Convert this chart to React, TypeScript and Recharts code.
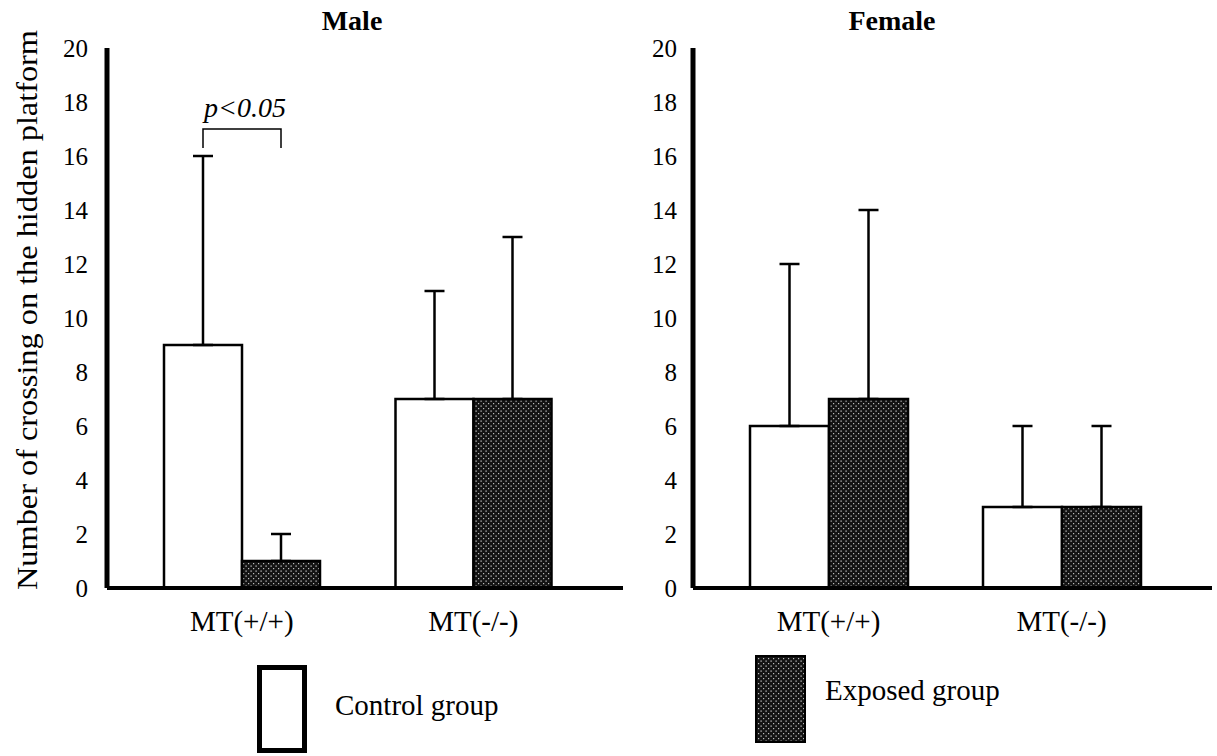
import React from "react";
import { BarChart, Bar, XAxis, YAxis, ErrorBar, LabelList, Legend } from "recharts";

const categories = ["MT(+/+)", "MT(-/-)"];
const maleControl = [9, 7];
const maleControlSd = [7, 4];
const maleExposed = [1, 7];
const maleExposedSd = [1, 6];
const femaleControl = [6, 3];
const femaleControlSd = [6, 3];
const femaleExposed = [7, 3];
const femaleExposedSd = [7, 3];
const yTicks = [0, 2, 4, 6, 8, 10, 12, 14, 16, 18, 20];
const bracketLevel = 17;
const bracketLegEnd = 16.3;
const bracketText = "p<0.05";

const FONT = "Liberation Serif, DejaVu Serif, serif";

function build(c: number[], cs: number[], e: number[], es: number[]) {
  return categories.map((name, i) => ({
    name,
    control: c[i],
    controlErr: [0, cs[i]],
    exposed: e[i],
    exposedErr: [0, es[i]],
  }));
}

const maleData = build(maleControl, maleControlSd, maleExposed, maleExposedSd);
const femaleData = build(femaleControl, femaleControlSd, femaleExposed, femaleExposedSd);

const Bracket = (props: any) => {
  const { x, y, width, height, index, value } = props;
  if (index !== 0) return null;
  const unit = height / value;
  const base = y + height;
  const top = base - bracketLevel * unit;
  const leg = base - bracketLegEnd * unit;
  const x1 = x + width / 2;
  const x2 = x + width * 1.5;
  return (
    <g>
      <path d={`M${x1},${leg}V${top}H${x2}V${leg}`} stroke="#000" strokeWidth={1.5} fill="none" />
      <text x={(x1 + x2) / 2 + 3} y={top - 12} textAnchor="middle" fontStyle="italic" fontSize={28} fontFamily={FONT} fill="#000">
        {bracketText}
      </text>
    </g>
  );
};

const YLabel = () => (
  <text
    x={27}
    y={310}
    transform="rotate(-90 27 310)"
    textAnchor="middle"
    dominantBaseline="central"
    fontSize={29}
    fontFamily={FONT}
    textLength={560}
    lengthAdjust="spacingAndGlyphs"
    fill="#000"
  >
    Number of crossing on the hidden platform
  </text>
);

function LegendItem({ payload, keyName, boxW, boxH, textLeft, textTop, filled }: any) {
  const item = (payload || []).find((p: any) => p.dataKey === keyName);
  if (!item) return null;
  return (
    <div style={{ position: "relative", width: 300, height: 100 }}>
      <svg width={boxW} height={boxH} style={{ position: "absolute", left: 0, top: 0 }}>
        {filled ? (
          <rect x={1} y={1} width={boxW - 2} height={boxH - 2} fill="url(#dots)" stroke="#000" strokeWidth={2} />
        ) : (
          <rect x={2.5} y={2.5} width={boxW - 5} height={boxH - 5} fill="#fff" stroke="#000" strokeWidth={5} />
        )}
      </svg>
      <span
        style={{
          position: "absolute",
          left: textLeft,
          top: textTop,
          fontSize: 29,
          lineHeight: "29px",
          fontFamily: FONT,
          whiteSpace: "nowrap",
          color: "#000",
        }}
      >
        {item.value}
      </span>
    </div>
  );
}

function Panel({ data, width, axisWidth, tickMargin, marginRight, legendKey, legendStyle, legendProps, bracket, yLabel }: any) {
  return (
    <BarChart
      width={width}
      height={756}
      data={data}
      margin={{ top: 48, right: marginRight, bottom: 96, left: 0 }}
      barCategoryGap={38}
      barGap={0}
    >
      <defs>
        <pattern id="dots" width={5} height={5} patternUnits="userSpaceOnUse">
          <rect width={5} height={5} fill="#141414" />
          <rect x={0.5} y={0.5} width={1.2} height={1.2} fill="#d8d8d8" />
          <rect x={3} y={3} width={1.2} height={1.2} fill="#bdbdbd" />
        </pattern>
      </defs>
      <XAxis
        dataKey="name"
        axisLine={{ stroke: "#000", strokeWidth: 4 }}
        tickLine={false}
        tickMargin={16}
        height={72}
        padding={{ left: 19, right: 34 }}
        tick={{ fill: "#000", fontSize: 29, fontFamily: FONT }}
      />
      <YAxis
        domain={[0, 20]}
        ticks={yTicks}
        interval={0}
        width={axisWidth}
        axisLine={{ stroke: "#000", strokeWidth: 5 }}
        tickLine={false}
        tickMargin={tickMargin}
        tick={{ fill: "#000", fontSize: 25, fontFamily: FONT }}
        label={yLabel ? <YLabel /> : undefined}
      />
      <Legend
        layout="vertical"
        align="center"
        verticalAlign="middle"
        wrapperStyle={legendStyle}
        content={(p: any) => <LegendItem payload={p.payload} keyName={legendKey} {...legendProps} />}
      />
      <Bar dataKey="control" name="Control group" fill="#fff" stroke="#000" strokeWidth={2.5} isAnimationActive={false}>
        <ErrorBar dataKey="controlErr" direction="y" width={10} stroke="#000" strokeWidth={2.5} />
        {bracket ? <LabelList dataKey="control" content={<Bracket />} /> : null}
      </Bar>
      <Bar dataKey="exposed" name="Exposed group" fill="url(#dots)" stroke="#000" strokeWidth={2.5} isAnimationActive={false}>
        <ErrorBar dataKey="exposedErr" direction="y" width={10} stroke="#000" strokeWidth={2.5} />
      </Bar>
    </BarChart>
  );
}

const titleStyle: React.CSSProperties = {
  position: "absolute",
  top: 7,
  transform: "translateX(-50%)",
  fontFamily: FONT,
  fontWeight: "bold",
  fontSize: 28,
  lineHeight: "28px",
  whiteSpace: "nowrap",
  color: "#000",
};

export default function App() {
  return (
    <div style={{ position: "absolute", left: 0, top: 0, width: 1217, height: 756, background: "#fff", overflow: "hidden" }}>
      <div style={{ position: "absolute", left: 0, top: 0 }}>
        <Panel
          data={maleData}
          width={640}
          axisWidth={107}
          tickMargin={13}
          marginRight={17}
          legendKey="control"
          legendStyle={{ left: 257, top: 665, width: 300, height: 100 }}
          legendProps={{ boxW: 50, boxH: 88, textLeft: 78, textTop: 26, filled: false }}
          bracket
          yLabel
        />
      </div>
      <div style={{ position: "absolute", left: 630, top: 0 }}>
        <Panel
          data={femaleData}
          width={587}
          axisWidth={63}
          tickMargin={10}
          marginRight={5}
          legendKey="exposed"
          legendStyle={{ left: 125, top: 655, width: 300, height: 100 }}
          legendProps={{ boxW: 51, boxH: 88, textLeft: 70, textTop: 21, filled: true }}
        />
      </div>
      <div style={{ ...titleStyle, left: 352 }}>Male</div>
      <div style={{ ...titleStyle, left: 892 }}>Female</div>
    </div>
  );
}
